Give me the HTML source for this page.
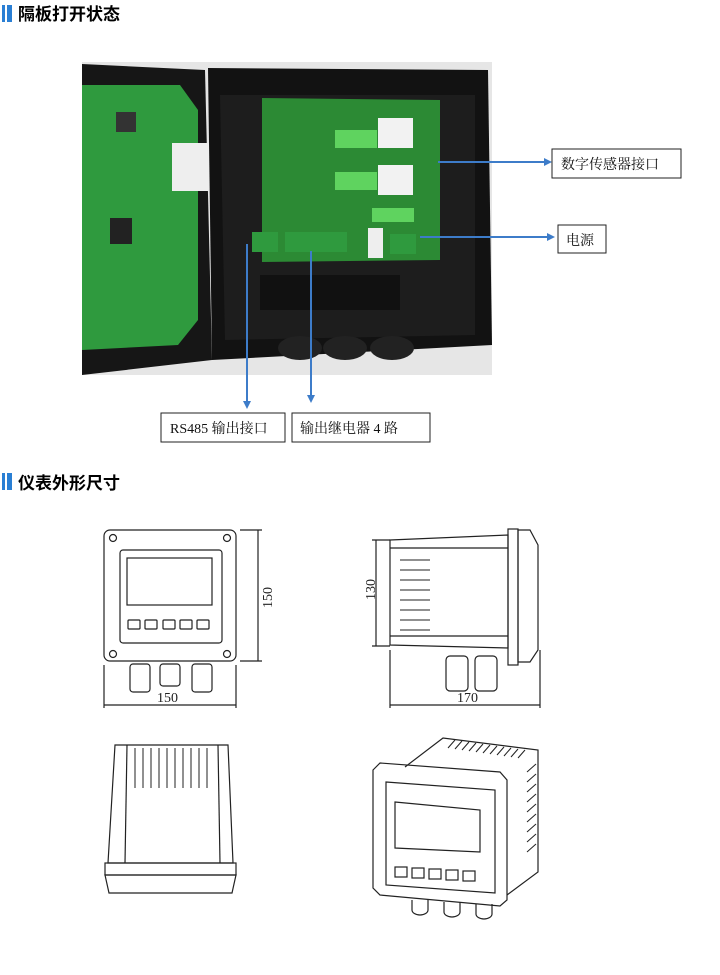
<!DOCTYPE html>
<html><head><meta charset="utf-8"><style>
body{margin:0;background:#fff;width:720px;height:970px;overflow:hidden;font-family:"Liberation Sans","Noto Sans CJK SC",sans-serif}
</style></head><body>
<svg width="720" height="970" viewBox="0 0 720 970" xmlns="http://www.w3.org/2000/svg" font-family="Liberation Serif, Noto Serif CJK SC, serif">
<!-- headings -->
<rect x="2" y="5" width="3" height="17" fill="#2a7fd4"/><rect x="7" y="5" width="5" height="17" fill="#2a7fd4"/>
<text x="18" y="20" font-size="17" font-weight="bold" font-family="Liberation Sans, Noto Sans CJK SC, sans-serif">隔板打开状态</text>
<rect x="2" y="473" width="3" height="17" fill="#2a7fd4"/><rect x="7" y="473" width="5" height="17" fill="#2a7fd4"/>
<text x="18" y="489" font-size="17" font-weight="bold" font-family="Liberation Sans, Noto Sans CJK SC, sans-serif">仪表外形尺寸</text>

<!-- photo -->
<rect x="82" y="62" width="410" height="313" fill="#e6e6e6"/>
<polygon points="82,64 205,70 212,360 82,375" fill="#161616"/>
<polygon points="82,85 180,85 198,110 198,320 178,345 82,350" fill="#2f9a3e"/>
<rect x="116" y="112" width="20" height="20" fill="#333"/>
<rect x="110" y="218" width="22" height="26" fill="#222"/>
<rect x="172" y="143" width="80" height="48" fill="#eeeeee"/>
<polygon points="208,68 488,70 492,345 212,360" fill="#121212"/>
<polygon points="220,95 475,95 475,335 225,340" fill="#1d1d1d"/>
<polygon points="262,98 440,100 440,260 262,262" fill="#2c8a34"/>
<rect x="335" y="130" width="42" height="18" fill="#5fd35f"/>
<rect x="335" y="172" width="42" height="18" fill="#5fd35f"/>
<rect x="378" y="118" width="35" height="30" fill="#f2f2f2"/>
<rect x="378" y="165" width="35" height="30" fill="#f2f2f2"/>
<rect x="372" y="208" width="42" height="14" fill="#5fd35f"/>
<rect x="252" y="232" width="26" height="20" fill="#2f9a3e"/>
<rect x="285" y="232" width="62" height="20" fill="#2f9a3e"/>
<rect x="368" y="228" width="15" height="30" fill="#eee"/>
<rect x="390" y="234" width="26" height="20" fill="#2f9a3e"/>
<rect x="260" y="275" width="140" height="35" fill="#111"/>
<g fill="#222"><ellipse cx="300" cy="348" rx="22" ry="12"/><ellipse cx="345" cy="348" rx="22" ry="12"/><ellipse cx="392" cy="348" rx="22" ry="12"/></g>
<!-- connectors -->
<g stroke="#3d7cc9" stroke-width="2" fill="#3d7cc9">
<line x1="438" y1="162" x2="545" y2="162"/><polygon points="552,162 544,158 544,166" stroke="none"/>
<line x1="420" y1="237" x2="548" y2="237"/><polygon points="555,237 547,233 547,241" stroke="none"/>
<line x1="247" y1="244" x2="247" y2="402"/><polygon points="247,409 243,401 251,401" stroke="none"/>
<line x1="311" y1="251" x2="311" y2="396"/><polygon points="311,403 307,395 315,395" stroke="none"/>
</g>
<g fill="#fff" stroke="#222" stroke-width="1">
<rect x="552" y="149" width="129" height="29"/>
<rect x="558" y="225" width="48" height="28"/>
<rect x="161" y="413" width="124" height="29"/>
<rect x="292" y="413" width="138" height="29"/>
</g>
<g font-size="14" fill="#111">
<text x="561" y="169">数字传感器接口</text>
<text x="566" y="245">电源</text>
<text x="170" y="433">RS485 输出接口</text>
<text x="300" y="433">输出继电器 4 路</text>
</g>

<!-- drawings -->
<g fill="none" stroke="#222" stroke-width="1.2">
<!-- front view -->
<rect x="104" y="530" width="132" height="131" rx="6"/>
<rect x="120" y="550" width="102" height="93" rx="3"/>
<rect x="127" y="558" width="85" height="47"/>
<rect x="128" y="620" width="12" height="9" rx="1"/><rect x="145" y="620" width="12" height="9" rx="1"/><rect x="163" y="620" width="12" height="9" rx="1"/><rect x="180" y="620" width="12" height="9" rx="1"/><rect x="197" y="620" width="12" height="9" rx="1"/>
<circle cx="113" cy="538" r="3.5"/><circle cx="227" cy="538" r="3.5"/><circle cx="113" cy="654" r="3.5"/><circle cx="227" cy="654" r="3.5"/>
<rect x="130" y="664" width="20" height="28" rx="3"/><rect x="160" y="664" width="20" height="22" rx="3"/><rect x="192" y="664" width="20" height="28" rx="3"/>
<line x1="240" y1="530" x2="262" y2="530"/><line x1="258" y1="530" x2="258" y2="661"/><line x1="240" y1="661" x2="262" y2="661"/>
<line x1="104" y1="665" x2="104" y2="708"/><line x1="236" y1="665" x2="236" y2="708"/><line x1="104" y1="705" x2="236" y2="705"/>
<!-- side view -->
<polygon points="390,540 508,535 508,648 390,645"/>
<line x1="390" y1="548" x2="508" y2="548"/><line x1="390" y1="636" x2="508" y2="636"/>
<rect x="508" y="529" width="10" height="136"/>
<polygon points="518,530 530,530 538,545 538,650 530,662 518,662"/>
<line x1="376" y1="540" x2="376" y2="646"/><line x1="372" y1="540" x2="390" y2="540"/><line x1="372" y1="646" x2="390" y2="646"/>
<rect x="446" y="656" width="22" height="35" rx="4"/><rect x="475" y="656" width="22" height="35" rx="4"/>
<line x1="390" y1="650" x2="390" y2="708"/><line x1="540" y1="650" x2="540" y2="708"/><line x1="390" y1="705" x2="540" y2="705"/>
<!-- top view -->
<polygon points="115,745 228,745 233,863 108,863"/>
<line x1="127" y1="745" x2="125" y2="863"/><line x1="218" y1="745" x2="220" y2="863"/>
<rect x="105" y="863" width="131" height="12"/>
<polygon points="105,875 236,875 232,893 109,893"/>
<!-- iso view -->
<polyline points="405,767 443,738 538,750 538,872 507,895"/>
<polygon points="373,770 380,763 500,772 507,780 507,900 500,906 380,895 373,888"/>
<polygon points="386,782 495,790 495,893 386,885" />
<polygon points="395,802 480,810 480,852 395,848"/>
<rect x="395" y="867" width="12" height="10"/><rect x="412" y="868" width="12" height="10"/><rect x="429" y="869" width="12" height="10"/><rect x="446" y="870" width="12" height="10"/><rect x="463" y="871" width="12" height="10"/>
<path d="M412,900 v10 a8,5 0 0 0 16,0 v-10"/><path d="M444,902 v10 a8,5 0 0 0 16,0 v-10"/><path d="M476,904 v10 a8,5 0 0 0 16,0 v-10"/>
</g>
<g stroke="#222" stroke-width="1">
<line x1="400" y1="560" x2="430" y2="560"/><line x1="400" y1="570" x2="430" y2="570"/><line x1="400" y1="580" x2="430" y2="580"/><line x1="400" y1="590" x2="430" y2="590"/><line x1="400" y1="600" x2="430" y2="600"/><line x1="400" y1="610" x2="430" y2="610"/><line x1="400" y1="620" x2="430" y2="620"/><line x1="400" y1="630" x2="430" y2="630"/>
<line x1="135" y1="748" x2="135" y2="788"/><line x1="143" y1="748" x2="143" y2="788"/><line x1="151" y1="748" x2="151" y2="788"/><line x1="159" y1="748" x2="159" y2="788"/><line x1="167" y1="748" x2="167" y2="788"/><line x1="175" y1="748" x2="175" y2="788"/><line x1="183" y1="748" x2="183" y2="788"/><line x1="191" y1="748" x2="191" y2="788"/><line x1="199" y1="748" x2="199" y2="788"/><line x1="207" y1="748" x2="207" y2="788"/>
<line x1="448" y1="748" x2="455" y2="740"/><line x1="455" y1="749" x2="462" y2="741"/><line x1="462" y1="750" x2="469" y2="742"/><line x1="469" y1="751" x2="476" y2="743"/><line x1="476" y1="752" x2="483" y2="744"/><line x1="483" y1="753" x2="490" y2="745"/><line x1="490" y1="754" x2="497" y2="746"/><line x1="497" y1="755" x2="504" y2="747"/><line x1="504" y1="756" x2="511" y2="748"/><line x1="511" y1="757" x2="518" y2="749"/><line x1="518" y1="758" x2="525" y2="750"/>
<line x1="527" y1="772" x2="536" y2="764"/><line x1="527" y1="782" x2="536" y2="774"/><line x1="527" y1="792" x2="536" y2="784"/><line x1="527" y1="802" x2="536" y2="794"/><line x1="527" y1="812" x2="536" y2="804"/><line x1="527" y1="822" x2="536" y2="814"/><line x1="527" y1="832" x2="536" y2="824"/><line x1="527" y1="842" x2="536" y2="834"/><line x1="527" y1="852" x2="536" y2="844"/>
</g>
<g font-size="14" fill="#222">
<text x="157" y="702">150</text>
<text x="457" y="702">170</text>
<text transform="translate(272,608) rotate(-90)">150</text>
<text transform="translate(375,600) rotate(-90)">130</text>
</g>
</svg>
</body></html>
